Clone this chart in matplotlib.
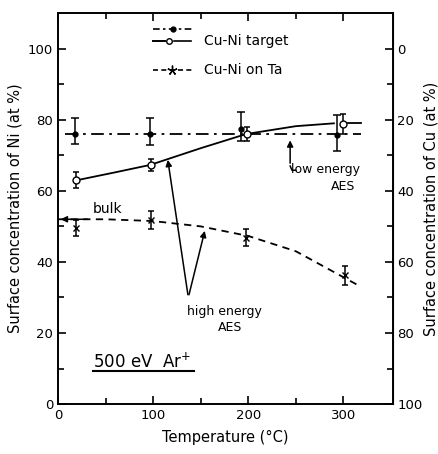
import matplotlib
matplotlib.use('Agg')
import matplotlib.pyplot as plt
import numpy as np

### data ###
# low energy AES (dash-dot, filled dot)
low_T = [18, 97, 192, 293]
low_ni = [76, 76, 77.5, 75.8]
low_err_lo = [2.8, 3.0, 3.5, 4.7]
low_err_hi = [4.6, 4.4, 4.8, 5.6]
low_line_T = [7, 318]
low_line_ni = [76, 76]

# Cu-Ni target (solid, open circle)
tgt_T = [19, 98, 199, 300]
tgt_ni = [63, 67.3, 76, 78.9]
tgt_err = [2.2, 1.8, 2.1, 2.8]
tgt_line_T = [20, 60, 97, 150, 198, 250, 290]
tgt_line_ni = [63, 65.2, 67.3, 72, 76, 78.2, 79]

# Cu-Ni on Ta (dashed, star)
ta_T = [19, 98, 198, 302]
ta_ni = [49.5, 51.8, 46.8, 36.2]
ta_err = [2.3, 2.4, 2.4, 2.6]
ta_line_T = [0, 50, 100, 150, 200, 250, 315]
ta_line_ni = [52, 52, 51.5, 50, 47.3, 43, 33.5]

fig = plt.figure(figsize=(4.39, 4.54), dpi=100)
ax = fig.add_axes([0.132, 0.110, 0.763, 0.861])

ax.plot(low_line_T, low_line_ni, color='black', lw=1.3, ls=(0, (7, 3, 1.5, 3)))
ax.errorbar(low_T, low_ni, yerr=[low_err_lo, low_err_hi], fmt='o', color='black',
            ms=3.5, capsize=3, elinewidth=1.1, capthick=1.1)

ax.plot(tgt_line_T, tgt_line_ni, color='black', lw=1.3)
ax.plot([305, 318], [79, 79], color='black', lw=1.3)
ax.errorbar(tgt_T, tgt_ni, yerr=tgt_err, fmt='o', mfc='white', mec='black', color='black',
            ms=5, capsize=2.5, elinewidth=1.1, capthick=1.1)

ax.plot(ta_line_T, ta_line_ni, color='black', lw=1.3, ls=(0, (4, 3)))
ax.errorbar(ta_T, ta_ni, yerr=ta_err, fmt='x', color='black',
            ms=4, capsize=2.5, elinewidth=1.1, capthick=1.1)

### legend drawn by hand ###
ax.plot([100, 142], [105.6, 105.6], color='black', lw=1.2, ls=(0, (4, 2, 1.5, 2)))
ax.plot([121], [105.6], 'o', color='black', ms=3.5)
ax.plot([100, 113], [102.3, 102.3], color='black', lw=1.4)
ax.plot([117], [102.3], 'o', mfc='white', mec='black', ms=4)
ax.plot([122, 140], [102.3, 102.3], color='black', lw=1.2)
ax.text(153, 102.3, 'Cu-Ni target', fontsize=10, va='center')
ax.plot([100, 142], [94.1, 94.1], color='black', lw=1.2, ls=(0, (3, 2)))
ax.plot([120], [94.1], marker=(5, 2), color='black', ms=7)
ax.text(153, 94.1, 'Cu-Ni on Ta', fontsize=10, va='center')

### annotations ###
ax.annotate('', xy=(0, 52), xytext=(34, 52),
            arrowprops=dict(arrowstyle='-|>', color='black', lw=1.1, mutation_scale=9))
ax.text(37, 53.8, 'bulk', fontsize=10)

ax.annotate('', xy=(115, 69.5), xytext=(137, 30),
            arrowprops=dict(arrowstyle='-|>', color='black', lw=1.1, mutation_scale=9))
ax.annotate('', xy=(155, 49.5), xytext=(137, 30),
            arrowprops=dict(arrowstyle='-|>', color='black', lw=1.1, mutation_scale=9))
ax.text(175, 26, 'high energy', fontsize=9, ha='center', va='center')
ax.text(181, 21.5, 'AES', fontsize=9, ha='center', va='center')

ax.annotate('', xy=(244, 75), xytext=(244, 67),
            arrowprops=dict(arrowstyle='-|>', color='black', lw=1.1, mutation_scale=9))
ax.plot([244, 246, 250], [67, 65.8, 65.8], color='black', lw=1.1)
ax.text(281, 66, 'low energy', fontsize=9, ha='center', va='center')
ax.text(300, 61.2, 'AES', fontsize=9, ha='center', va='center')

ax.text(37, 10.3, '500 eV  Ar$^{+}$', fontsize=12)
ax.plot([37, 143], [9.4, 9.4], color='black', lw=1.5)

### axes ###
ax.set_xlim(0, 352)
ax.set_ylim(0, 110)
ax.set_xticks([0, 100, 200, 300])
ax.set_xticks([50, 150, 250], minor=True)
ax.set_yticks([0, 20, 40, 60, 80, 100])
ax.set_yticks([10, 30, 50, 70, 90], minor=True)
ax.tick_params(which='both', direction='in', top=True, labelsize=9.5, width=1.2)
ax.tick_params(which='major', length=6)
ax.tick_params(which='minor', length=4)
ax.tick_params(axis='y', which='both', right=True)
for s in ax.spines.values():
    s.set_linewidth(1.4)

sec = ax.secondary_yaxis('right', functions=(lambda v: 100 - v, lambda v: 100 - v))
sec.set_yticks([0, 20, 40, 60, 80, 100])
sec.tick_params(direction='in', length=0, labelsize=9.5, pad=3)
sec.set_ylabel('Surface concentration of Cu (at %)', fontsize=10.5, rotation=90, labelpad=1)

ax.set_xlabel('Temperature (°C)', fontsize=10.5, labelpad=6)
ax.set_ylabel('Surface concentration of Ni (at %)', fontsize=10.5, labelpad=4)

plt.savefig('out.png', dpi=100)
